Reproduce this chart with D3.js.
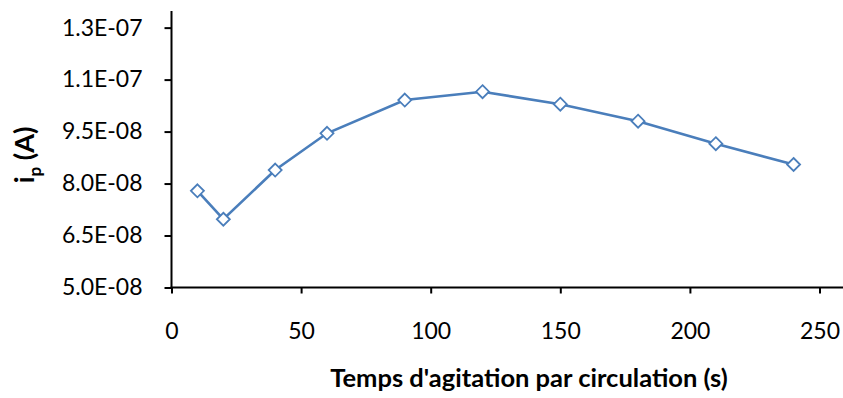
<!DOCTYPE html>
<html>
<head>
<meta charset="utf-8">
<script src="https://cdn.jsdelivr.net/npm/d3@7"></script>
<style>
  html, body { margin: 0; padding: 0; background: #fff; }
  svg { display: block; }
  text { font-family: Lato, "Open Sans", sans-serif; fill: #000; }
</style>
</head>
<body>
<svg id="chart" width="843" height="398"></svg>
<script>
// Stirring time by circulation (s) vs. peak current (A)
const times = [10, 20, 40, 60, 90, 120, 150, 180, 210, 240];
const currents = [7.79e-8, 6.97e-8, 8.39e-8, 9.45e-8, 1.041e-7, 1.065e-7, 1.029e-7, 9.80e-8, 9.15e-8, 8.55e-8];
const xTicks = [0, 50, 100, 150, 200, 250];
const yTicks = [5.0e-8, 6.5e-8, 8.0e-8, 9.5e-8, 1.1e-7, 1.25e-7];
const yTickLabels = ["5.0E-08", "6.5E-08", "8.0E-08", "9.5E-08", "1.1E-07", "1.3E-07"];
const xTitle = "Temps d'agitation par circulation (s)";

const svg = d3.select("#chart");
const plotLeft = 171.5, plotTop = 11, plotBottom = 287.5, plotRight = 843;
const color = "#4a7ebb";

const x = d3.scaleLinear().domain([0, 250]).range([plotLeft, 819.5]);
const y = d3.scaleLinear().domain([5.0e-8, 1.298e-7]).range([plotBottom, plotTop]);

// y axis
const yAxis = d3.axisLeft(y).tickValues(yTicks).tickSize(7).tickPadding(22)
  .tickFormat((d, i) => yTickLabels[i]);
const gy = svg.append("g").attr("transform", `translate(${plotLeft},0)`).call(yAxis);
gy.select(".domain").attr("stroke", "#000").attr("stroke-width", 2).attr("d", `M0,${plotTop}V${plotBottom}`);
gy.selectAll(".tick line").attr("stroke", "#000").attr("stroke-width", 2);
gy.selectAll(".tick text").attr("font-size", 23).style("font-family", "Lato, sans-serif");

// x axis
const xAxis = d3.axisBottom(x).tickValues(xTicks).tickSize(6).tickPadding(29);
const gx = svg.append("g").attr("transform", `translate(0,${plotBottom})`).call(xAxis);
gx.select(".domain").attr("stroke", "#000").attr("stroke-width", 2).attr("d", `M${plotLeft - 1},0H${plotRight}`);
gx.selectAll(".tick line").attr("stroke", "#000").attr("stroke-width", 2);
gx.selectAll(".tick text").attr("font-size", 23).style("font-family", "Lato, sans-serif");

// axis titles
svg.append("text")
  .attr("x", 529).attr("y", 387)
  .attr("text-anchor", "middle")
  .attr("font-size", 25.5).attr("font-weight", "bold")
  .text(xTitle);

const yt = svg.append("text")
  .attr("transform", "translate(34,155) rotate(-90)")
  .attr("text-anchor", "middle")
  .attr("font-size", 27).attr("font-weight", "bold");
yt.append("tspan").text("i");
yt.append("tspan").attr("font-size", 17).attr("dy", 7).text("p");
yt.append("tspan").attr("dy", -7).text(" (A)");

// series line
const pts = times.map((t, i) => [t, currents[i]]);
svg.append("path")
  .datum(pts)
  .attr("fill", "none")
  .attr("stroke", color)
  .attr("stroke-width", 2.6)
  .attr("d", d3.line().x(d => x(d[0])).y(d => y(d[1])));

// diamond markers
const s = 6.5;
svg.append("g").selectAll("path")
  .data(pts).join("path")
  .attr("d", d => {
    const cx = x(d[0]), cy = y(d[1]);
    return `M${cx},${cy - s}L${cx + s},${cy}L${cx},${cy + s}L${cx - s},${cy}Z`;
  })
  .attr("fill", "#fff")
  .attr("stroke", color)
  .attr("stroke-width", 1.8);
</script>
</body>
</html>
